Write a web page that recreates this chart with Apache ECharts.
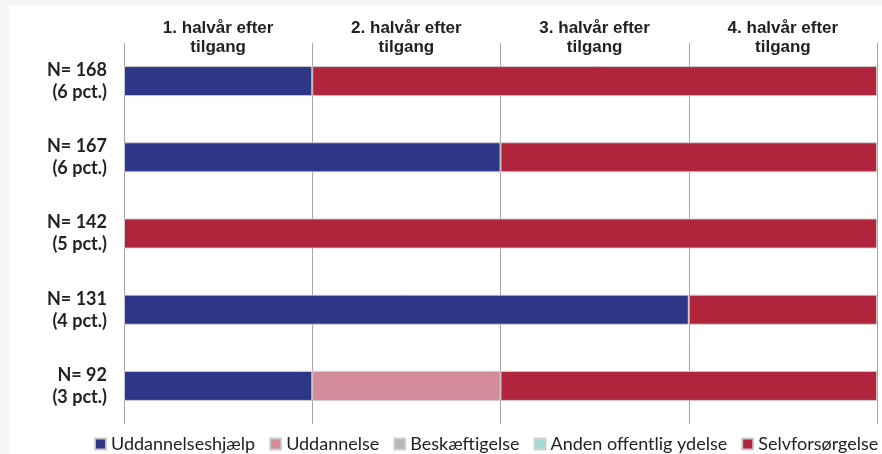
<!DOCTYPE html>
<html>
<head>
<meta charset="utf-8">
<script src="https://cdn.jsdelivr.net/npm/echarts@6/dist/echarts.min.js"></script>
<style>
  html, body { margin: 0; padding: 0; background: #f4f6f6; }
  #chart { position: absolute; left: 9px; top: 5px; width: 873px; height: 449px; background: #fff; }
</style>
</head>
<body>
<div id="chart"></div>
<script>
var periods = ['1. halvår efter\ntilgang', '2. halvår efter\ntilgang', '3. halvår efter\ntilgang', '4. halvår efter\ntilgang'];
var groups = ['N= 168\n(6 pct.)', 'N= 167\n(6 pct.)', 'N= 142\n(5 pct.)', 'N= 131\n(4 pct.)', 'N= 92\n(3 pct.)'];
var seriesNames = ['Uddannelseshjælp', 'Uddannelse', 'Beskæftigelse', 'Anden offentlig ydelse', 'Selvforsørgelse'];
var colors = ['#2d3687', '#d38b9b', '#b8b8b8', '#a3dad6', '#b0253b'];
// number of half-years spent in each state, per group
var uddHjaelp = [1, 2, 0, 3, 1];
var uddannelse = [0, 0, 0, 0, 1];
var beskaeftigelse = [0, 0, 0, 0, 0];
var andenYdelse = [0, 0, 0, 0, 0];
var selvforsorgelse = [3, 2, 4, 1, 2];

var values = [uddHjaelp, uddannelse, beskaeftigelse, andenYdelse, selvforsorgelse];

var chart = echarts.init(document.getElementById('chart'));
var option = {
    animation: false,
    color: colors,
    grid: { left: 115, right: 5, top: 38, bottom: 30 },
    legend: {
        left: 80,
        top: 425,
        width: 800,
        itemWidth: 11,
        itemHeight: 11,
        itemGap: 14,
        icon: 'rect',
        textStyle: { fontFamily: 'Lato', fontSize: 18, color: '#222' },
        data: seriesNames
    },
    xAxis: [{
        type: 'value',
        position: 'top',
        min: 0,
        max: 4,
        interval: 1,
        axisLabel: { show: false },
        axisLine: { show: false },
        axisTick: { show: false },
        splitLine: { show: true, lineStyle: { color: '#a6a6a6', width: 1 } }
    }, {
        type: 'category',
        position: 'top',
        data: periods,
        offset: -14,
        axisLine: { show: false },
        axisTick: { show: false },
        axisLabel: {
            margin: 0,
            fontFamily: 'Liberation Sans',
            fontWeight: 'bold',
            fontSize: 17,
            lineHeight: 19,
            color: '#222'
        }
    }],
    yAxis: {
        type: 'category',
        inverse: true,
        data: groups,
        axisLine: { show: false },
        axisTick: { show: false },
        axisLabel: {
            margin: 17,
            align: 'right',
            fontFamily: 'Lato',
            fontWeight: 'bold',
            fontSize: 18,
            lineHeight: 22,
            color: '#222'
        }
    },
    series: seriesNames.map(function (name, i) {
        return {
            name: name,
            type: 'bar',
            stack: 'total',
            xAxisIndex: 0,
            barWidth: 30,
            itemStyle: { borderColor: 'rgba(205,205,205,0.9)', borderWidth: 1 },
            data: values[i].map(function (v) { return v === 0 ? null : v; })
        };
    })
};
chart.setOption(option);
</script>
</body>
</html>
